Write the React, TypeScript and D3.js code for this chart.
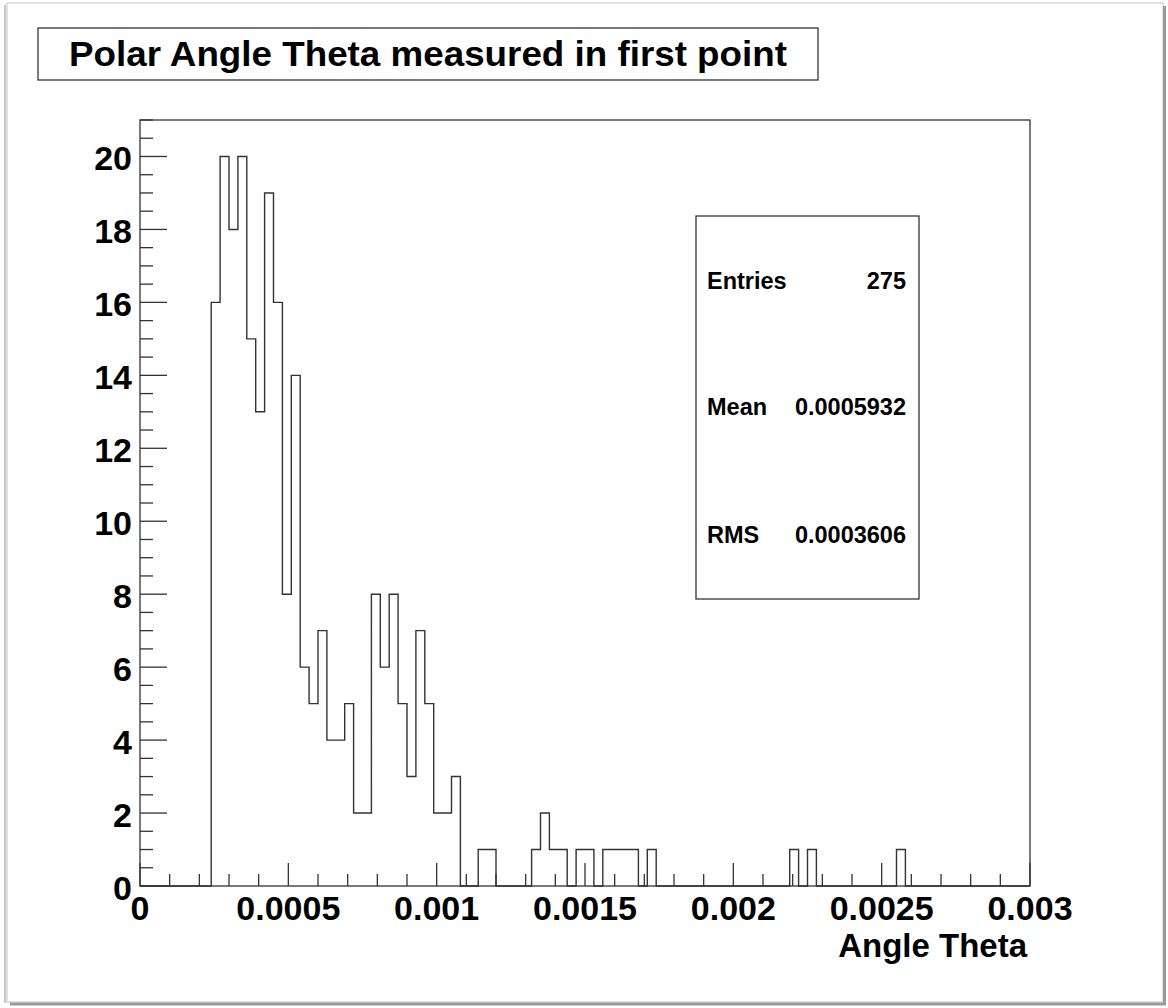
import React from "react";
import * as d3 from "d3";

// ---- data ----
const xMin = 0;
const xMax = 0.003;
const binCount = 100;
const yMax = 21;

// counts for the 100 equal-width bins in [0, 0.003]
const binCounts: number[] = [
  0, 0, 0, 0, 0, 0, 0, 0, 16, 20,
  18, 20, 15, 13, 19, 16, 8, 14, 6, 5,
  7, 4, 4, 5, 2, 2, 8, 6, 8, 5,
  3, 7, 5, 2, 2, 3, 0, 0, 1, 1,
  0, 0, 0, 0, 1, 2, 1, 1, 0, 1,
  1, 0, 1, 1, 1, 1, 0, 1, 0, 0,
  0, 0, 0, 0, 0, 0, 0, 0, 0, 0,
  0, 0, 0, 1, 0, 1, 0, 0, 0, 0,
  0, 0, 0, 0, 0, 1, 0, 0, 0, 0,
  0, 0, 0, 0, 0, 0, 0, 0, 0, 0,
];

const xTickValues = [0, 0.0005, 0.001, 0.0015, 0.002, 0.0025, 0.003];
const xTickLabels = ["0", "0.0005", "0.001", "0.0015", "0.002", "0.0025", "0.003"];
const yTickValues = [0, 2, 4, 6, 8, 10, 12, 14, 16, 18, 20];
const yTickLabels = ["0", "2", "4", "6", "8", "10", "12", "14", "16", "18", "20"];

const titleText = "Polar Angle Theta measured in first point";
const xAxisTitle = "Angle Theta";
const statLabels = ["Entries", "Mean", "RMS"];
const statValues = ["275", "0.0005932", "0.0003606"];

const W = 1168;
const H = 1008;
const FONT = "'Liberation Sans', Arial, Helvetica, sans-serif";
const LINE = "#333";

export default function App() {
  const x = d3.scaleLinear().domain([xMin, xMax]).range([140, 1030]);
  const y = d3.scaleLinear().domain([0, yMax]).range([886, 120]);
  const bw = (xMax - xMin) / binCount;

  // step outline
  const pts: [number, number][] = [[x(xMin), y(0)]];
  binCounts.forEach((c, i) => {
    const x0 = xMin + i * bw;
    const x1 = x0 + bw;
    pts.push([x(x0), y(c)]);
    pts.push([x(x1), y(c)]);
  });
  pts.push([x(xMax), y(0)]);
  const histPath = d3.line()(pts) || "";

  const minorX = d3.range(0, 31).map((i) => i * 0.0001);
  const minorY = d3.range(0, 43).map((i) => i * 0.5);

  const statsRows = [289, 415, 543];

  return (
    <svg
      width={W}
      height={H}
      style={{ position: "absolute", left: 0, top: 0, display: "block" }}
      fontFamily={FONT}
    >
      <rect x={0} y={0} width={W} height={H} fill="#fff" />
      {/* outer picture frame with shadow */}
      <rect x={7} y={3} width={1156} height={999} fill="#fff" stroke="#d8d8d8" strokeWidth={1.5} />
      <line x1={1164.5} y1={6} x2={1164.5} y2={1005} stroke="#9a9a9a" strokeWidth={3} />
      <line x1={10} y1={1004} x2={1166} y2={1004} stroke="#9a9a9a" strokeWidth={3} />
      <line x1={5} y1={5} x2={5} y2={1003} stroke="#c8c8c8" strokeWidth={2} />

      {/* title box */}
      <rect x={38} y={28} width={780} height={52} fill="#fff" stroke={LINE} strokeWidth={1.3} />
      <text
        x={428}
        y={66}
        textAnchor="middle"
        fontSize={35}
        fontWeight="bold"
        textLength={718}
        lengthAdjust="spacingAndGlyphs"
      >
        {titleText}
      </text>

      {/* frame */}
      <rect x={x(xMin)} y={y(yMax)} width={x(xMax) - x(xMin)} height={y(0) - y(yMax)} fill="none" stroke={LINE} strokeWidth={1.3} />

      {/* y ticks */}
      {minorY.map((v, i) => {
        const major = Math.abs(v / 2 - Math.round(v / 2)) < 1e-9;
        return (
          <line key={"ym" + i} x1={x(xMin)} x2={x(xMin) + (major ? 27 : 13)} y1={y(v)} y2={y(v)} stroke={LINE} strokeWidth={1.3} />
        );
      })}
      {/* x ticks */}
      {minorX.map((v, i) => {
        const major = i % 5 === 0;
        return (
          <line key={"xm" + i} x1={x(v)} x2={x(v)} y1={y(0)} y2={y(0) - (major ? 23 : 12)} stroke={LINE} strokeWidth={1.3} />
        );
      })}

      {/* histogram */}
      <path d={histPath} fill="none" stroke={LINE} strokeWidth={1.4} />

      {/* y labels */}
      {yTickValues.map((v, i) => (
        <text key={"yl" + i} x={132} y={y(v) + 14} textAnchor="end" fontSize={34} fontWeight="bold">
          {yTickLabels[i]}
        </text>
      ))}
      {/* x labels */}
      {xTickValues.map((v, i) => (
        <text key={"xl" + i} x={x(v)} y={920} textAnchor="middle" fontSize={34} fontWeight="bold">
          {xTickLabels[i]}
        </text>
      ))}
      <text x={1027} y={957} textAnchor="end" fontSize={33} fontWeight="bold">
        {xAxisTitle}
      </text>

      {/* stats box */}
      <rect x={696} y={216} width={223} height={383} fill="#fff" stroke={LINE} strokeWidth={1.3} />
      {statLabels.map((s, i) => (
        <g key={"st" + i}>
          <text x={707} y={statsRows[i]} fontSize={23.5} fontWeight="bold">{s}</text>
          <text x={906} y={statsRows[i]} fontSize={23.5} fontWeight="bold" textAnchor="end">{statValues[i]}</text>
        </g>
      ))}
    </svg>
  );
}
